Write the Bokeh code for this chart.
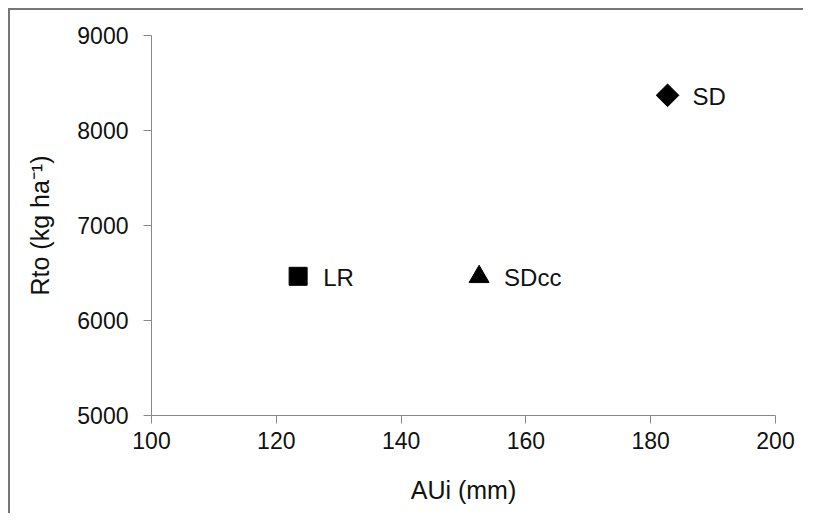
import math
from bokeh.plotting import figure
from bokeh.models import ColumnDataSource, FixedTicker, Range1d
from bokeh.core.properties import value
from bokeh.embed import file_html
from bokeh.resources import INLINE

# data
labels = ["LR", "SDcc", "SD"]
aui_mm = [123.5, 152.5, 182.7]
rto_kg_ha = [6465, 6460, 8370]
markers = ["square", "triangle", "square"]
marker_angles = [0.0, 0.0, math.pi / 4]
marker_sizes = [18, 20, 16]

x_ticks = [100, 120, 140, 160, 180, 200]
y_ticks = [5000, 6000, 7000, 8000, 9000]

FONT = "Liberation Sans"
AXIS_COLOR = "#888888"

src = ColumnDataSource(dict(x=aui_mm, y=rto_kg_ha, label=labels, marker=markers,
                            angle=marker_angles, size=marker_sizes))

p = figure(width=795, height=505, output_backend="svg", toolbar_location=None,
           x_range=Range1d(100, 200), y_range=Range1d(5000, 9000),
           min_border_left=141, min_border_right=30, min_border_top=25, min_border_bottom=100)
p.styles = {"border-top": "2px solid #767676", "border-left": "2px solid #767676",
            "margin-left": "8px", "margin-top": "8px"}

p.outline_line_color = None
p.xgrid.visible = False
p.ygrid.visible = False
p.background_fill_color = "white"
p.border_fill_color = "white"

p.scatter("x", "y", source=src, marker="marker", angle="angle", size="size",
          fill_color="black", line_color="black")
p.text("x", "y", text="label", source=src, x_offset=25, y_offset=1,
       text_font=value(FONT), text_font_size="24px", text_baseline="middle",
       text_align="left", text_color="#111111")

for ax, ticks in ((p.xaxis[0], x_ticks), (p.yaxis[0], y_ticks)):
    ax.ticker = FixedTicker(ticks=ticks)
    ax.axis_line_color = AXIS_COLOR
    ax.major_tick_line_color = AXIS_COLOR
    ax.minor_tick_line_color = None
    ax.major_tick_out = 8
    ax.major_tick_in = 0
    ax.major_label_text_font = FONT
    ax.major_label_text_font_size = "23px"
    ax.major_label_text_color = "#111111"
    ax.axis_label_text_font = FONT
    ax.axis_label_text_font_size = "25px"
    ax.axis_label_text_font_style = "normal"
    ax.axis_label_text_color = "#111111"

p.xaxis.axis_label = "AUi (mm)"
p.yaxis.axis_label = "Rto (kg ha⁻¹)"
p.xaxis.major_label_standoff = 8
p.xaxis.axis_label_standoff = 24
p.yaxis.major_label_standoff = 15
p.yaxis.axis_label_standoff = 20

open("out.html", "w").write(file_html(p, INLINE))
